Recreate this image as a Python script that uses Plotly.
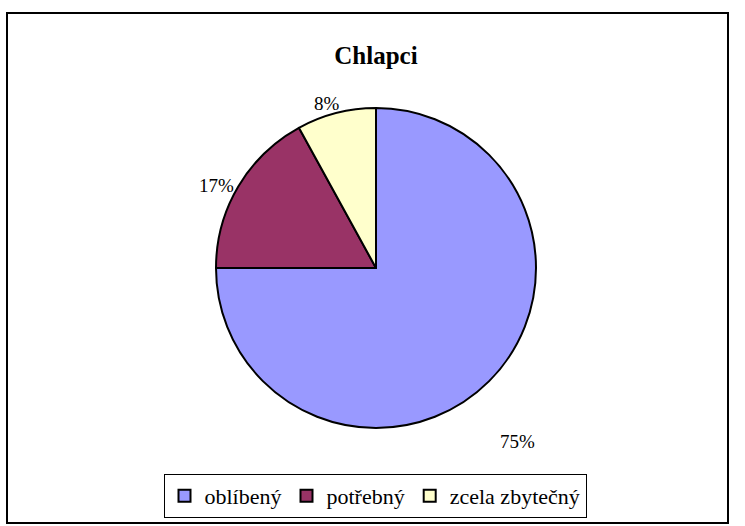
import math
import plotly.graph_objects as go

# ---- data ----
categories = ["oblíbený", "potřebný", "zcela zbytečný"]
values = [75, 17, 8]
title_text = "Chlapci"

# ---- style ----
colors = ["#9999FF", "#993366", "#FFFFCC"]
label_dist = [1.40, 1.125, 1.075]   # radial label distance factor
label_dang = [5.8, -3.2, -2.1]      # angular nudge of labels (deg)
W, H = 745, 526
FONT = "Liberation Serif"

cx, cy, r = 376, 268, 160  # pie centre / radius in pixels

fig = go.Figure()
fig.add_trace(go.Pie(
    labels=categories,
    values=values,
    sort=False,
    direction="clockwise",
    rotation=0,
    marker=dict(colors=colors, line=dict(color="black", width=2)),
    textinfo="none",
    hoverinfo="label+percent",
    domain=dict(x=[(cx - r) / W, (cx + r) / W], y=[1 - (cy + r) / H, 1 - (cy - r) / H]),
))

# percentage labels placed around slice mid-angles (derived from data)
total = sum(values)
cum = 0
annotations = []
for v, f, da in zip(values, label_dist, label_dang):
    mid = (cum + v / 2) / total * 2 * math.pi + math.radians(da)
    cum += v
    px = cx + f * r * math.sin(mid)
    py = cy - f * r * math.cos(mid)
    annotations.append(dict(
        x=px / W, y=1 - py / H, xref="paper", yref="paper",
        text=f"{round(v / total * 100)}%", showarrow=False,
        font=dict(family=FONT, size=19, color="black"),
        xanchor="center", yanchor="middle",
    ))

fig.update_layout(
    width=W, height=H,
    margin=dict(l=0, r=0, t=0, b=0),
    paper_bgcolor="white",
    plot_bgcolor="white",
    title=dict(text=f"<b>{title_text}</b>", x=376 / W, xanchor="center",
               y=1 - 55 / H, yanchor="middle",
               font=dict(family=FONT, size=25, color="black")),
    showlegend=True,
    legend=dict(orientation="h", x=375 / W, xanchor="center",
                y=1 - 496 / H, yanchor="middle",
                bordercolor="black", borderwidth=1,
                font=dict(family=FONT, size=22, color="black"),
                itemwidth=30,
                bgcolor="white"),
    annotations=annotations,
    shapes=[dict(type="rect", xref="paper", yref="paper",
                 x0=7 / W, x1=728 / W, y0=1 - 523 / H, y1=1 - 13 / H,
                 line=dict(color="black", width=2))],
)

fig.write_html("out.html", config={"displayModeBar": False},
               post_script="document.body.style.margin='0';")
